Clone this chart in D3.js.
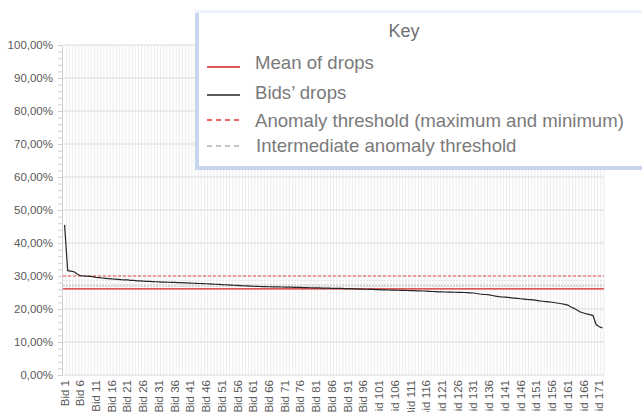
<!DOCTYPE html>
<html>
<head>
<meta charset="utf-8">
<script src="https://cdn.jsdelivr.net/npm/d3@7"></script>
<style>
  body { margin: 0; background: #fff; }
  svg { display: block; font-family: "Liberation Sans", Arial, sans-serif; }
</style>
</head>
<body>
<svg id="chart" width="642" height="412"></svg>
<script>
// bids' drops, sorted descending (in %)
const drops = [
  45.5, 31.6, 31.5, 31.3, 30.6, 30.1, 30.0, 29.95, 29.9, 29.8,
  29.6, 29.5, 29.4, 29.3, 29.2, 29.1, 29.05, 29.0, 28.9, 28.85,
  28.8, 28.7, 28.65, 28.55, 28.5, 28.45, 28.4, 28.35, 28.3, 28.25,
  28.2, 28.15, 28.12, 28.1, 28.07, 28.05, 28.0, 27.97, 27.93, 27.9,
  27.85, 27.8, 27.77, 27.73, 27.7, 27.65, 27.6, 27.55, 27.5, 27.45,
  27.4, 27.35, 27.3, 27.25, 27.2, 27.15, 27.1, 27.05, 27.0, 26.95,
  26.9, 26.85, 26.82, 26.8, 26.77, 26.74, 26.72, 26.7, 26.68, 26.66,
  26.64, 26.62, 26.6, 26.58, 26.56, 26.54, 26.5, 26.47, 26.44, 26.42,
  26.4, 26.38, 26.35, 26.33, 26.3, 26.28, 26.26, 26.24, 26.22, 26.2,
  26.18, 26.15, 26.12, 26.1, 26.05, 26.0, 25.98, 25.95, 25.92, 25.88,
  25.85, 25.8, 25.78, 25.75, 25.72, 25.7, 25.68, 25.65, 25.62, 25.6,
  25.58, 25.55, 25.52, 25.5, 25.45, 25.4, 25.35, 25.3, 25.25, 25.2,
  25.18, 25.15, 25.12, 25.1, 25.07, 25.05, 25.02, 25.0, 24.95, 24.9,
  24.85, 24.7, 24.55, 24.45, 24.4, 24.3, 24.1, 23.9, 23.75, 23.65,
  23.6, 23.5, 23.4, 23.3, 23.2, 23.1, 23.0, 22.9, 22.85, 22.75,
  22.6, 22.45, 22.35, 22.25, 22.15, 22.05, 21.9, 21.75, 21.6, 21.4,
  21.2, 20.6, 20.2, 19.6, 19.1, 18.8, 18.5, 18.3, 18.0, 15.3,
  14.6, 14.3
];
const bids = drops.map((d, i) => "Bid " + (i + 1));

const meanDrop = 26.1;
const maxThreshold = 30.0;
const intermediate = [28.6, 27.3, 26.9];

const yTicks = [0, 10, 20, 30, 40, 50, 60, 70, 80, 90, 100];
const keyLabels = ["Mean of drops", "Bids\u2019 drops", "Anomaly threshold (maximum and minimum)", "Intermediate anomaly threshold"];

const svg = d3.select("#chart");

const x = d3.scaleBand().domain(bids).range([63, 604]);
const y = d3.scaleLinear().domain([0, 100]).range([375, 45]);

// vertical grid, one per bid
svg.append("g")
  .selectAll("line")
  .data(bids)
  .join("line")
    .attr("x1", d => x(d) + x.bandwidth())
    .attr("x2", d => x(d) + x.bandwidth())
    .attr("y1", y(100))
    .attr("y2", y(0))
    .attr("stroke", "#e6e6e6")
    .attr("stroke-width", 0.8);

// horizontal grid
svg.append("g")
  .selectAll("line")
  .data(yTicks)
  .join("line")
    .attr("x1", 63)
    .attr("x2", 604)
    .attr("y1", d => y(d))
    .attr("y2", d => y(d))
    .attr("stroke", "#dcdcdc");

// y axis with minor ticks
const yAxis = svg.append("g")
  .attr("transform", "translate(62,0)")
  .call(d3.axisLeft(y).tickValues(d3.range(0, 101, 2)).tickSize(4).tickFormat(""));
yAxis.select(".domain").attr("stroke", "#d0d0d0");
yAxis.selectAll(".tick line").attr("stroke", "#d0d0d0");

svg.append("g")
  .selectAll("text")
  .data(yTicks)
  .join("text")
    .attr("x", 53)
    .attr("y", d => y(d))
    .attr("dy", "0.35em")
    .attr("text-anchor", "end")
    .attr("font-size", 11.5)
    .attr("fill", "#595959")
    .text(d => d3.format(".2f")(d).replace(".", ",") + "%");

// x labels every 5 bids (the longer ones run off the bottom, as in the original)
svg.append("g")
  .selectAll("text")
  .data(bids.filter((d, i) => i % 5 === 0))
  .join("text")
    .attr("transform", d => "translate(" + (x(d) + x.bandwidth() / 2 + 4) + ",380) rotate(-90)")
    .attr("text-anchor", "end")
    .attr("font-size", 11.5)
    .attr("fill", "#595959")
    .text(d => d);

// thresholds
svg.append("g")
  .selectAll("line")
  .data(intermediate)
  .join("line")
    .attr("x1", 63).attr("x2", 604)
    .attr("y1", d => y(d)).attr("y2", d => y(d))
    .attr("stroke", (d, i) => i === 0 ? "#e6e6e6" : "#c8c8c8")
    .attr("stroke-width", 1)
    .attr("stroke-dasharray", "2,1");

svg.append("line")
  .attr("x1", 63).attr("x2", 604)
  .attr("y1", y(maxThreshold)).attr("y2", y(maxThreshold))
  .attr("stroke", "#f05050")
  .attr("stroke-dasharray", "3,2");

svg.append("line")
  .attr("x1", 63).attr("x2", 604)
  .attr("y1", y(meanDrop)).attr("y2", y(meanDrop))
  .attr("stroke", "#d42020")
  .attr("stroke-width", 1.2);

// drops line
const line = d3.line()
  .x((d, i) => x(bids[i]) + x.bandwidth() / 2)
  .y(d => y(d));

svg.append("path")
  .attr("d", line(drops))
  .attr("fill", "none")
  .attr("stroke", "#262626")
  .attr("stroke-width", 1.2);

// key box
const key = svg.append("g");
key.append("rect").attr("x", 195).attr("y", 10).attr("width", 460).attr("height", 160).attr("fill", "#c6d6ec");
key.append("rect").attr("x", 195).attr("y", 10).attr("width", 460).attr("height", 3).attr("fill", "#eef3fa");
key.append("rect").attr("x", 199).attr("y", 13).attr("width", 450).attr("height", 153).attr("fill", "#fff");

key.append("text")
  .attr("x", 404).attr("y", 37)
  .attr("text-anchor", "middle")
  .attr("font-size", 18)
  .attr("fill", "#707070")
  .text("Key");

const rowY = [67, 95, 120, 146];
const rowStyle = [
  { stroke: "#d42020", dash: null },
  { stroke: "#262626", dash: null },
  { stroke: "#f03030", dash: "5,4" },
  { stroke: "#b0b0b0", dash: "5,4" }
];
key.selectAll("line.k")
  .data(keyLabels)
  .join("line")
    .attr("class", "k")
    .attr("x1", 207).attr("x2", 240)
    .attr("y1", (d, i) => rowY[i]).attr("y2", (d, i) => rowY[i])
    .attr("stroke", (d, i) => rowStyle[i].stroke)
    .attr("stroke-width", 1.3)
    .attr("stroke-dasharray", (d, i) => rowStyle[i].dash);

key.selectAll("text.k")
  .data(keyLabels)
  .join("text")
    .attr("class", "k")
    .attr("x", (d, i) => i === 3 ? 256 : 255)
    .attr("y", (d, i) => [69, 99, 127, 152][i])
    .attr("font-size", 18.6)
    .attr("fill", "#7a7a7a")
    .text(d => d);
</script>
</body>
</html>
